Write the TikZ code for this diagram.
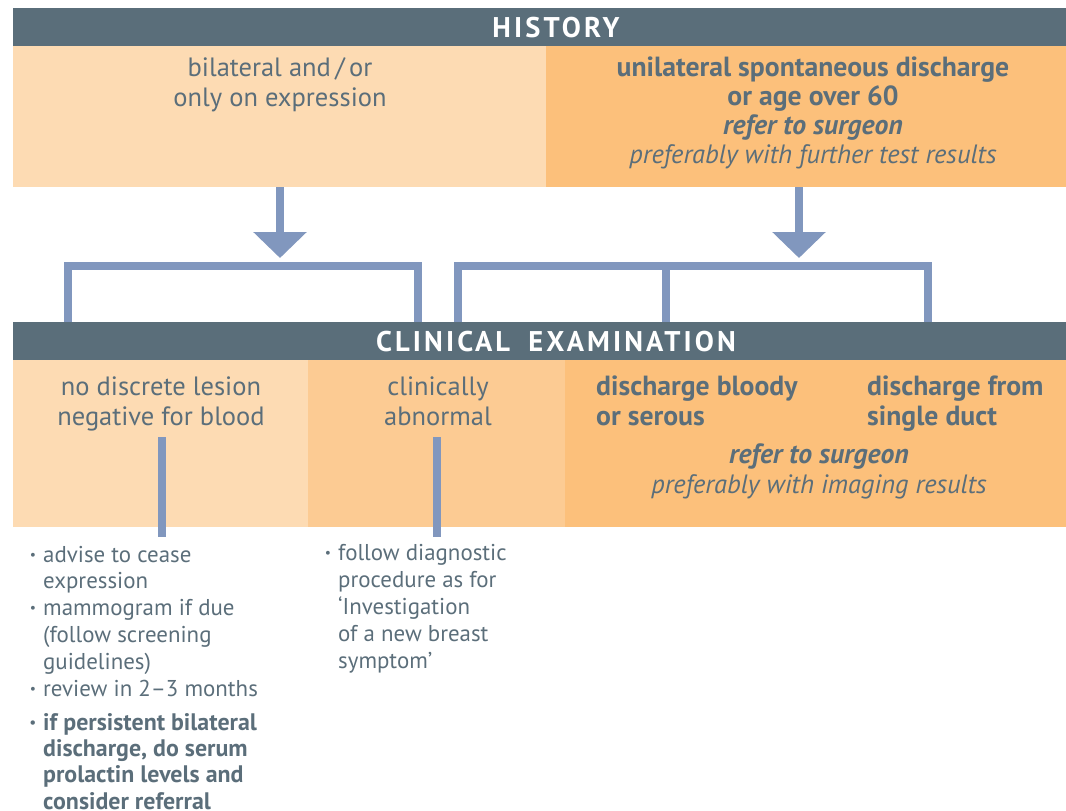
\documentclass[tikz,border=0pt]{standalone}
\usepackage{fontspec}
\setmainfont{PT Sans}
\usetikzlibrary{arrows.meta}
\definecolor{hdr}{HTML}{5A6E7A}
\definecolor{txt}{HTML}{5B6E7A}
\definecolor{peachL}{HTML}{FDDBB3}
\definecolor{peachM}{HTML}{FCCB93}
\definecolor{orangeD}{HTML}{FCC07B}
\definecolor{flow}{HTML}{8197BE}
\tikzset{
  hdrbar/.style={fill=hdr, inner sep=0pt, anchor=north west,
    minimum width=1053pt, minimum height=38pt},
  hdrtext/.style={text=white, inner sep=0pt, anchor=base,
    font=\fontsize{28.5}{30}\selectfont\bfseries\addfontfeature{LetterSpace=11}},
  panel/.style={inner sep=0pt, anchor=north west},
  body/.style={text=txt, inner sep=0pt, font=\fontsize{26.5}{29.5}\selectfont},
  bul/.style={text=txt, inner sep=0pt, anchor=base west, align=left,
    font=\fontsize{22.9}{26.8}\selectfont},
  flowline/.style={draw=flow, line width=8pt},
  flowarrow/.style={draw=flow, line width=8pt, -{Triangle[width=52pt,length=26pt]}},
}
\newcommand{\bl}{\llap{\raisebox{3pt}{\scalebox{0.6}{•}}\hspace{7pt}}}
\newcommand{\bfx}[1]{\fontsize{27.7}{#1}\selectfont\bfseries}
\begin{document}
\begin{tikzpicture}[x=1pt,y=-1pt]
\useasboundingbox (0,0) rectangle (1066,811);
% HISTORY
\node[panel, fill=peachL, minimum width=533pt, minimum height=141pt] (hL) at (13,46) {};
\node[panel, fill=orangeD, minimum width=520pt, minimum height=141pt] (hR) at (546,46) {};
\node[hdrbar] (hist) at (13,8) {};
\node[hdrtext] (histT) at (556,37) {HISTORY};
\node[body, anchor=base, align=center] (hLt) at (280,106) {bilateral and\,/\,or\\only on expression};
\node[body, anchor=base, align=center, font=\fontsize{26.5}{29}\selectfont] (hRt) at (813,163)
  {\bfx{29}unilateral spontaneous discharge\\\bfx{29}or age over 60\\\bfx{29}\itshape refer to surgeon\\\fontsize{26.5}{29}\selectfont\itshape preferably with further test results};
% arrows
\coordinate (aLs) at (280,187);
\coordinate (aLe) at (280,258);
\coordinate (aRs) at (799,187);
\coordinate (aRe) at (799,258);
\draw[flowarrow] (aLs) -- (aLe);
\draw[flowarrow] (aRs) -- (aRe);
% brackets
\coordinate (b1) at (68,324); \coordinate (b2) at (68,266);
\coordinate (b3) at (418,266); \coordinate (b4) at (418,324);
\coordinate (c1) at (458,324); \coordinate (c2) at (458,266);
\coordinate (c3) at (928,266); \coordinate (c4) at (928,324);
\coordinate (c5) at (666,266); \coordinate (c6) at (666,324);
\draw[flowline, line join=miter] (b1) -- (b2) -- (b3) -- (b4);
\draw[flowline, line join=miter] (c1) -- (c2) -- (c3) -- (c4);
\draw[flowline] (c5) -- (c6);
% CLINICAL EXAMINATION
\node[panel, fill=peachL, minimum width=295pt, minimum height=167pt] (cL) at (13,360) {};
\node[panel, fill=peachM, minimum width=257pt, minimum height=167pt] (cM) at (308,360) {};
\node[panel, fill=orangeD, minimum width=501pt, minimum height=167pt] (cR) at (565,360) {};
\node[hdrbar] (clin) at (13,322) {};
\node[hdrtext] (clinT) at (556,351) {CLINICAL\hspace{8pt} EXAMINATION};
\node[body, anchor=base, align=center] (cLt) at (161,425) {no discrete lesion\\negative for blood};
\node[body, anchor=base, align=center] (cMt) at (438,425) {clinically\\abnormal};
\node[body, anchor=base west, align=left, font=\bfx{29.5}] (cR1) at (596,425) {discharge bloody\\or serous};
\node[body, anchor=base west, align=left, font=\bfx{29.5}] (cR2) at (867,425) {discharge from\\single duct};
\node[body, anchor=base, align=center] (cR3) at (819,493) {\bfx{29.5}\itshape refer to surgeon\\\fontsize{26.5}{29.5}\selectfont\itshape preferably with imaging results};
% down lines
\coordinate (d1) at (162,437); \coordinate (d2) at (162,537);
\coordinate (e1) at (437,437); \coordinate (e2) at (437,537);
\draw[flowline] (d1) -- (d2);
\draw[flowline] (e1) -- (e2);
% bullets
\node[bul] (l1) at (43,696) {\bl advise to cease\\expression\\\bl mammogram if due\\(follow screening\\guidelines)\\\bl review in 2–3 months};
\node[bul, font=\fontsize{23.9}{26.3}\selectfont\bfseries] (l2) at (43,809) {\bl if persistent bilateral\\discharge, do serum\\prolactin levels and\\consider referral};
\node[bul] (m1) at (338,668) {\bl follow diagnostic\\procedure as for\\‘Investigation\\of a new breast\\symptom’};
\end{tikzpicture}
\end{document}
